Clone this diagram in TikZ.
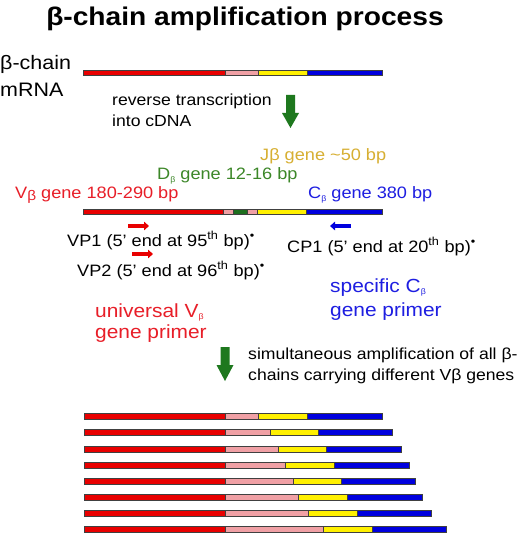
\documentclass[tikz,border=0pt]{standalone}
\usepackage{fontspec}
\setmainfont{Liberation Sans}[FakeStretch=1.1]
\usetikzlibrary{arrows.meta}
\definecolor{redbar}{RGB}{232,0,0}
\definecolor{pinkbar}{RGB}{240,160,165}
\definecolor{yellowbar}{RGB}{255,240,0}
\definecolor{bluebar}{RGB}{0,0,222}
\definecolor{greenbar}{RGB}{30,110,30}
\definecolor{arrgreen}{RGB}{30,120,30}
\definecolor{redtxt}{RGB}{232,30,40}
\definecolor{goldtxt}{RGB}{215,175,50}
\definecolor{greentxt}{RGB}{60,135,40}
\definecolor{bluetxt}{RGB}{30,30,225}
\newcommand\subb[1]{\raisebox{-2.5pt}{\fontsize{8}{8}\selectfont #1}}
\tikzset{
  seg/.style={draw=black!75, line width=0.8pt},
  txt/.style={anchor=base west, inner sep=0pt, font=\fontsize{16.5}{19}\selectfont},
  bigtxt/.style={anchor=base west, inner sep=0pt, font=\fontsize{19}{22}\selectfont},
  primer/.style={line width=3.2pt, -{Triangle[length=5pt,width=8.5pt]}},
  fatarrow/.style={fill=arrgreen}
}
\newcommand\segm[4]{\filldraw[seg, fill=#4] (#2,#1-2.9) rectangle (#3,#1+2.9);}
\begin{document}
\begin{tikzpicture}[x=1pt,y=-1pt]
\useasboundingbox (0,0) rectangle (520,534);
\fill[white] (0,0) rectangle (520,534);

\node[anchor=base, inner sep=0pt, font=\bfseries\fontsize{25.6}{30}\selectfont] (title) at (245,26) {β-chain amplification process};

% mRNA
\node[anchor=base west, inner sep=0pt, font=\fontsize{19.5}{22}\selectfont] (mrna1) at (0,70) {β-chain};
\node[anchor=base west, inner sep=0pt, font=\fontsize{19.5}{22}\selectfont] (mrna2) at (0,97) {mRNA};
\segm{73}{83}{225}{redbar}
\segm{73}{225}{258}{pinkbar}
\segm{73}{258}{307}{yellowbar}
\segm{73}{307}{382}{bluebar}

\node[txt, font=\fontsize{16}{19}\selectfont] (rt1) at (112,106) {reverse transcription};
\node[txt, font=\fontsize{16}{19}\selectfont] (rt2) at (112,127) {into cDNA};
\fill[fatarrow] (286,95) -- (295,95) -- (295,113) -- (299,113) -- (290.5,128) -- (282,113) -- (286,113) -- cycle;

% gene labels
\node[txt, text=goldtxt] (jlab) at (260,161) {Jβ gene \textasciitilde50 bp};
\node[txt, text=greentxt] (dlab) at (157,180) {D\subb{β} gene 12-16 bp};
\node[txt, text=redtxt] (vlab) at (15,199) {V\raisebox{-2pt}{\fontsize{14}{14}\selectfont β} gene 180-290 bp};
\node[txt, text=bluetxt] (clab) at (308,199) {C\subb{β} gene 380 bp};

% cDNA bar
\segm{212}{83}{223}{redbar}
\segm{212}{223}{233}{pinkbar}
\segm{212}{233}{247}{greenbar}
\segm{212}{247}{257}{pinkbar}
\segm{212}{257}{306}{yellowbar}
\segm{212}{306}{382}{bluebar}

% primers
\coordinate (vp1s) at (128,226); \coordinate (vp1e) at (149,226);
\coordinate (vp2s) at (132,254); \coordinate (vp2e) at (153,254);
\coordinate (cp1s) at (351,226); \coordinate (cp1e) at (330,226);
\draw[primer, redbar] (vp1s) -- (vp1e);
\draw[primer, redbar] (vp2s) -- (vp2e);
\draw[primer, bluebar] (cp1s) -- (cp1e);
\node[txt] (vp1) at (67,246) {VP1 (5' end at 95\textsuperscript{th} bp)\textsuperscript{•}};
\node[txt] (vp2) at (77,276) {VP2 (5' end at 96\textsuperscript{th} bp)\textsuperscript{•}};
\node[txt] (cp1) at (287,252) {CP1 (5' end at 20\textsuperscript{th} bp)\textsuperscript{•}};

\node[bigtxt, text=bluetxt] (sc1) at (330,292) {specific C\subb{β}};
\node[bigtxt, text=bluetxt] (sc2) at (330,316) {gene primer};
\node[bigtxt, text=redtxt] (uv1) at (95,317) {universal V\subb{β}};
\node[bigtxt, text=redtxt] (uv2) at (95,338) {gene primer};

\fill[fatarrow] (220.5,347) -- (229.5,347) -- (229.5,365) -- (233.5,365) -- (225,381) -- (216.5,365) -- (220.5,365) -- cycle;
\node[txt, font=\fontsize{16}{19}\selectfont] (sim1) at (248,359) {simultaneous amplification of all β-};
\node[txt, font=\fontsize{16}{19}\selectfont] (sim2) at (248,380) {chains carrying different Vβ genes};

% amplified products
\foreach \yy/\pe/\ye/\be in {416/258/307/382, 432/270/318/392, 449/278/326/401, 465/285/334/409, 481/293/341/415, 497/298/347/422, 513/308/357/431, 529/323/372/446}{
  \segm{\yy}{84}{225}{redbar}
  \segm{\yy}{225}{\pe}{pinkbar}
  \segm{\yy}{\pe}{\ye}{yellowbar}
  \segm{\yy}{\ye}{\be}{bluebar}
}
\end{tikzpicture}
\end{document}
